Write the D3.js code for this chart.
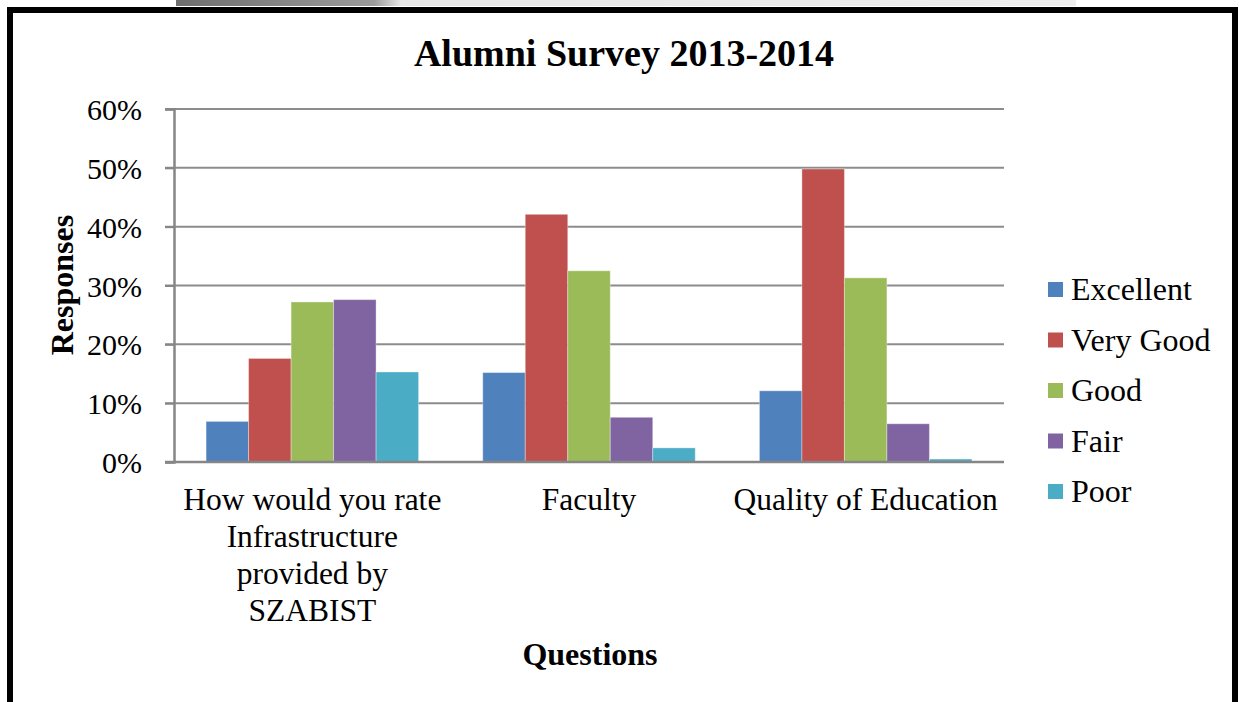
<!DOCTYPE html>
<html><head><meta charset="utf-8">
<script src="https://cdn.jsdelivr.net/npm/d3@7"></script>
<style>
html,body{margin:0;padding:0;background:#fff;overflow:hidden}
text{font-family:"Liberation Serif","Times New Roman",serif;fill:#000}
</style></head>
<body><svg id="c" width="1239" height="702"></svg>
<script>
const categories = [["How would you rate","Infrastructure","provided by","SZABIST"],["Faculty"],["Quality of Education"]];
const seriesNames = ["Excellent","Very Good","Good","Fair","Poor"];
const seriesColors = ["#4F81BD","#C0504D","#9BBB59","#8064A2","#4BACC6"];
const excellent = [0.069,0.152,0.121];
const veryGood  = [0.176,0.421,0.498];
const good      = [0.272,0.325,0.313];
const fair      = [0.276,0.076,0.065];
const poor      = [0.153,0.024,0.005];
const yTicks = [0,0.1,0.2,0.3,0.4,0.5,0.6];

const values = [excellent, veryGood, good, fair, poor];
const svg = d3.select("#c");
const FF = '"Liberation Serif","Times New Roman",serif';

// top faded strip (scan artifact)
const g0 = svg.append("defs").append("linearGradient").attr("id","strip").attr("x1","0").attr("x2","1");
g0.append("stop").attr("offset","0").attr("stop-color","#6e6e6e");
g0.append("stop").attr("offset","0.22").attr("stop-color","#9a9a9a");
g0.append("stop").attr("offset","0.25").attr("stop-color","#e6e6e6");
g0.append("stop").attr("offset","1").attr("stop-color","#ededed");
svg.append("rect").attr("x",176).attr("y",0).attr("width",900).attr("height",6).attr("fill","url(#strip)");

// frame
svg.append("rect").attr("x",10).attr("y",10).attr("width",1225).attr("height",720)
  .attr("fill","#fff").attr("stroke","#000").attr("stroke-width",6);

const x = d3.scaleBand().domain(d3.range(categories.length)).range([174,1004]).paddingInner(0).paddingOuter(0);
const xs = d3.scaleBand().domain(d3.range(seriesNames.length)).range([0,x.bandwidth()]).paddingInner(0).paddingOuter(0.755);
const y = d3.scaleLinear().domain([0,0.6]).range([462,109]);

// gridlines
svg.append("g").selectAll("line").data(yTicks.filter(d=>d>0)).join("line")
  .attr("x1",165).attr("x2",1004).attr("y1",d=>y(d)).attr("y2",d=>y(d))
  .attr("stroke","#8c8c8c").attr("stroke-width",2);

// y axis
const yAxis = d3.axisLeft(y).tickValues(yTicks).tickFormat(d3.format(".0%")).tickSize(9).tickPadding(23);
const ya = svg.append("g").attr("transform","translate(174,0)").call(yAxis);
ya.attr("font-family",null).attr("font-size",null);
ya.select(".domain").attr("stroke","#868686").attr("stroke-width",2.5);
ya.selectAll(".tick line").attr("stroke","#868686").attr("stroke-width",2);
ya.selectAll(".tick text").style("font-family",FF).style("font-size","30px").attr("fill","#000").attr("dy","0.35em");

// bars
const groups = svg.append("g").selectAll("g").data(values).join("g").attr("fill",(d,i)=>seriesColors[i]);
groups.each(function(vals,si){
  d3.select(this).selectAll("rect").data(vals).join("rect")
    .attr("x",(d,ci)=>x(ci)+xs(si)).attr("width",xs.bandwidth())
    .attr("y",d=>y(d)).attr("height",d=>y(0)-y(d))
    .attr("stroke","#fff").attr("stroke-opacity",0.35).attr("stroke-width",1);
});

// x axis baseline
svg.append("line").attr("x1",165).attr("x2",1004).attr("y1",y(0)).attr("y2",y(0))
  .attr("stroke","#868686").attr("stroke-width",2.5);

// category labels
const cl = svg.append("g").selectAll("text").data(categories).join("text")
  .attr("x",(d,i)=>x(i)+x.bandwidth()/2).attr("y",510).attr("text-anchor","middle")
  .style("font-family",FF).style("font-size","31.5px");
cl.each(function(lines,i){
  d3.select(this).selectAll("tspan").data(lines).join("tspan")
    .attr("x",x(i)+x.bandwidth()/2).attr("dy",(d,k)=>k===0?0:37).text(d=>d);
});

// title
svg.append("text").attr("x",624).attr("y",66).attr("text-anchor","middle")
  .style("font-family",FF).style("font-size","38px").attr("font-weight","bold").text("Alumni Survey 2013-2014");

// axis titles
svg.append("text").attr("transform","translate(73,285) rotate(-90)").attr("text-anchor","middle")
  .style("font-family",FF).style("font-size","32px").attr("font-weight","bold").text("Responses");
svg.append("text").attr("x",590).attr("y",665).attr("text-anchor","middle")
  .style("font-family",FF).style("font-size","32px").attr("font-weight","bold").text("Questions");

// legend
const lg = svg.append("g").selectAll("g").data(seriesNames).join("g")
  .attr("transform",(d,i)=>`translate(1048,${300+i*50.5})`);
lg.append("rect").attr("x",0).attr("y",-18).attr("width",15).attr("height",15).attr("fill",(d,i)=>seriesColors[i]);
lg.append("text").attr("x",23).attr("y",0).style("font-family",FF).style("font-size","32px").text(d=>d);
</script></body></html>
